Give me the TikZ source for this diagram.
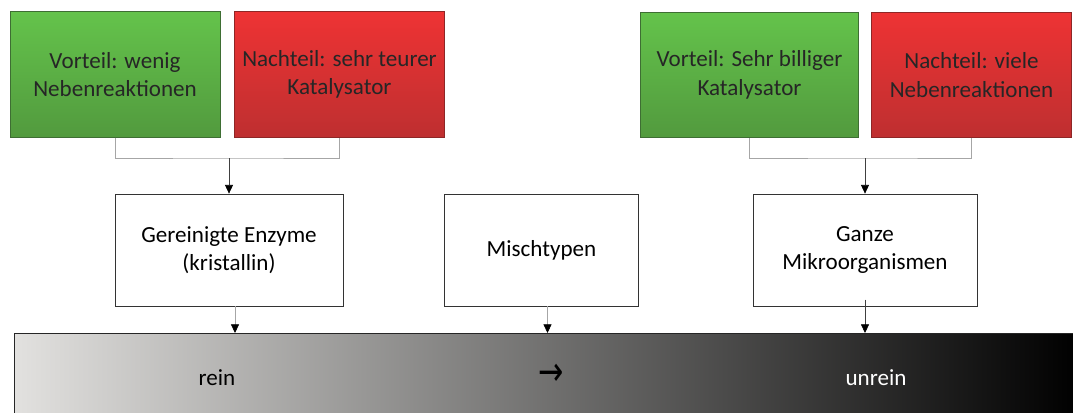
\documentclass[tikz,border=0pt]{standalone}
\usepackage{fontspec}
\setmainfont{Carlito}
\newfontfamily\arrowfont{DejaVu Sans}
\usetikzlibrary{arrows.meta,positioning}
\definecolor{ProTop}{HTML}{64C34B}
\definecolor{ProBottom}{HTML}{529A3E}
\definecolor{ProEdge}{HTML}{3E6E33}
\definecolor{ConTop}{HTML}{EE3334}
\definecolor{ConBottom}{HTML}{BE2F30}
\definecolor{ConEdge}{HTML}{8E2626}
\definecolor{BarLight}{HTML}{E2E1DF}
\definecolor{LinkGray}{HTML}{A6A6A6}

\begin{document}
\begin{tikzpicture}[
  x=0.75pt, y=-0.75pt,
  txt/.style={font=\fontsize{17.3}{21.5}\selectfont, align=center, inner sep=0pt},
  probox/.style={txt, draw=ProEdge, line width=0.7pt, top color=ProTop, bottom color=ProBottom,
    minimum height=94pt, text=black!85},
  conbox/.style={txt, draw=ConEdge, line width=0.7pt, top color=ConTop, bottom color=ConBottom,
    minimum height=94pt, text=black!85},
  typebox/.style={txt, draw=black!80, line width=0.6pt, fill=white, minimum height=84pt},
  barbox/.style={draw=black!85, line width=0.6pt, left color=BarLight, right color=black,
    minimum width=798pt, minimum height=62pt, inner sep=0pt},
  bracket/.style={draw=LinkGray, line width=0.6pt},
  downarrow/.style={draw=black!75, line width=0.5pt, -{Triangle[length=6.5pt,width=6pt,color=black]}}
]
\useasboundingbox (0,0) rectangle (1073,412);

% advantages / disadvantages
\node[probox, minimum width=157.5pt] (pro1) at (115,74.5) {Vorteil: wenig\\Nebenreaktionen};
\node[conbox, minimum width=158pt] (con1) at (339.5,74.5) {Nachteil: sehr teurer\\Katalysator};
\node[probox, minimum width=164pt] (pro2) at (749.5,75) {Vorteil: Sehr billiger\\Katalysator};
\node[conbox, minimum width=150.5pt] (con2) at (971.5,75) {Nachteil: viele\\Nebenreaktionen};

% catalyst types
\node[typebox, minimum width=171pt] (enz) at (229,250) {Gereinigte Enzyme\\(kristallin)};
\node[typebox, minimum width=145pt] (mix) at (541.5,250) {Mischtypen};
\node[typebox, minimum width=168pt] (org) at (865,250) {Ganze\\Mikroorganismen};

% purity scale
\node[barbox, anchor=north west] (bar) at (14,333) {};
\node[txt, text=black] (pure) at (217,378) {rein};
\node[txt, text=black, font=\arrowfont] (dir) at (551,374.5) {\resizebox{19pt}{16pt}{→}};
\node[txt, text=white] (impure) at (876,378) {unrein};

% brackets joining each pair
\coordinate (j1) at (229,158);
\coordinate (j2) at (865,158);
\draw[bracket] (pro1.south) |- (j1) -| (con1.south);
\draw[bracket] (pro2.south) |- (j2) -| (con2.south);
\draw[downarrow] (j1) -- (enz.north);
\draw[downarrow] (j2) -- (org.north);

% into the scale
\draw[downarrow, draw=LinkGray] ([xshift=4.5pt]enz.south) -- ([xshift=4.5pt]enz.south |- bar.north);
\draw[downarrow, draw=LinkGray] ([xshift=4.5pt]mix.south) -- ([xshift=4.5pt]mix.south |- bar.north);
\draw[downarrow] ([yshift=5pt]org.south) -- (org.south |- bar.north);
\end{tikzpicture}
\end{document}
